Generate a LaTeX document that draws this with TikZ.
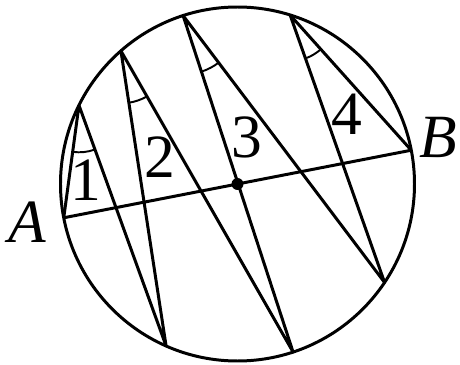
\documentclass[tikz,border=0pt]{standalone}
\usepackage{fontspec}
\setmainfont{Liberation Serif}
\usetikzlibrary{angles}

\begin{document}
\begin{tikzpicture}[line width=1.7pt,line join=round,
  lbl/.style={inner sep=0pt,font=\fontsize{35}{40}\selectfont},
  ang/.style={draw,line width=1.1pt}]
  \def\rr{3.54}
  \useasboundingbox (-4.75,-3.62) rectangle (4.45,3.68);
  \coordinate (O) at (0,0);
  \coordinate (A) at (191:\rr);
  \coordinate (B) at (11:\rr);
  \coordinate (P1) at (153.6:\rr);
  \coordinate (P2) at (131.2:\rr);
  \coordinate (P3) at (107.9:\rr);
  \coordinate (P4) at (72.7:\rr);
  \coordinate (Q1) at (246.2:\rr);
  \coordinate (Q2) at (288.3:\rr);
  \coordinate (Q3) at (326.2:\rr);
  \draw (O) circle (\rr);
  \draw (A) -- (B);
  \draw (A) -- (P1) -- (Q1) -- (P2) -- (Q2) -- (P3) -- (Q3) -- (P4) -- (B);
  \fill (O) circle (0.12);
  % the four marked angles
  \pic[ang,angle radius=0.94cm] {angle=A--P1--Q1};
  \pic[ang,angle radius=1.05cm] {angle=Q1--P2--Q2};
  \pic[ang,angle radius=1.18cm] {angle=Q2--P3--Q3};
  \pic[ang,angle radius=0.92cm] {angle=Q3--P4--B};
  \node[lbl] (n1) at (-3.03,0.08) {1};
  \node[lbl] (n2) at (-1.55,0.54) {2};
  \node[lbl] (n3) at (0.19,0.94) {3};
  \node[lbl] (n4) at (2.19,1.40) {4};
  \node[lbl] (lA) at (-4.21,-0.76) {\itshape A};
  \node[lbl] (lB) at (4.01,0.94) {\itshape B};
\end{tikzpicture}
\end{document}
